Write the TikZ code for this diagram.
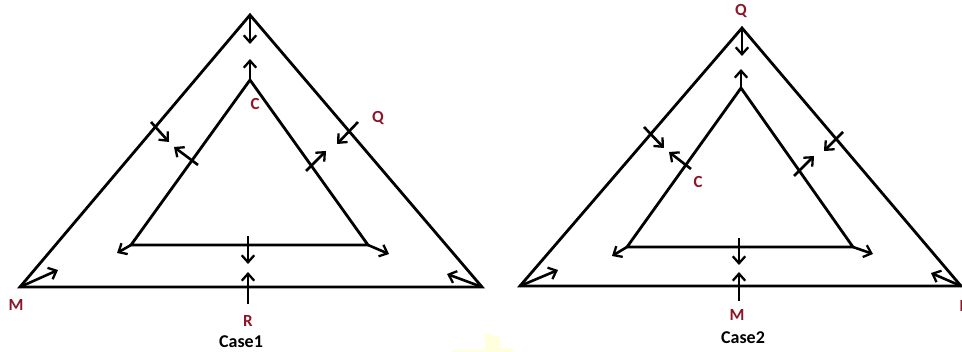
\documentclass[tikz,border=0pt]{standalone}
\usepackage{fontspec}
\setmainfont{Carlito}
\usetikzlibrary{arrows.meta}
\definecolor{lbl}{RGB}{140,22,40}
\definecolor{wm}{RGB}{255,255,222}
\tikzset{
  edge/.style={line width=2.8pt, line join=miter},
  arr/.style={line width=2.6pt, -{Straight Barb[length=7pt,width=12.5pt,line width=2.3pt]}},
  lab/.style={text=lbl, font=\bfseries\fontsize{17}{17}\selectfont, inner sep=0pt},
  captext/.style={text=black, font=\bfseries\fontsize{18}{18}\selectfont, inner sep=0pt}
}
\begin{document}
\begin{tikzpicture}[x=1pt,y=-1pt]
\useasboundingbox (0,0) rectangle (962,352);
% faint watermark
\fill[wm] (485,333) -- (500,337) -- (500,348) -- (513,348) -- (513,352) -- (453,352) -- (453,350) -- (485,350) -- cycle;

% ---------------- Case 1 ----------------
\coordinate (A1) at (250,15);
\coordinate (M1) at (20,287);
\coordinate (B1) at (482,287);
\coordinate (a1) at (250,80);
\coordinate (l1) at (131,245);
\coordinate (r1) at (368,245);
\draw[edge] (A1) -- (M1) -- (B1) -- cycle;
\draw[edge] (a1) -- (l1) -- (r1) -- cycle;

\coordinate (p1s) at (250,15);  \coordinate (p1t) at (250,44);
\coordinate (p2t) at (250,59);
\coordinate (p3s) at (151,122); \coordinate (p3t) at (169,142);
\coordinate (p4s) at (198,165); \coordinate (p4t) at (174,147);
\coordinate (p5s) at (358,122); \coordinate (p5t) at (337,144);
\coordinate (p6s) at (306,171); \coordinate (p6t) at (326,151);
\coordinate (p7s) at (248,236); \coordinate (p7t) at (248,264);
\coordinate (p8s) at (248,304); \coordinate (p8t) at (248,272);
\coordinate (p9t) at (117,253);
\coordinate (p10t) at (389,254);
\coordinate (p11t) at (58,270);
\coordinate (p12t) at (447,274);
\draw[arr] (p1s) -- (p1t);
\draw[arr] (a1) -- (p2t);
\draw[arr] (p3s) -- (p3t);
\draw[arr] (p4s) -- (p4t);
\draw[arr] (p5s) -- (p5t);
\draw[arr] (p6s) -- (p6t);
\draw[arr] (p7s) -- (p7t);
\draw[arr] (p8s) -- (p8t);
\draw[arr] (l1) -- (p9t);
\draw[arr] (r1) -- (p10t);
\draw[arr] (M1) -- (p11t);
\draw[arr] (B1) -- (p12t);

\node[lab] (c1) at (255,104) {C};
\node[lab] (q1) at (378,118) {Q};
\node[lab] (m1) at (16,305) {M};
\node[lab] (rr1) at (248,321) {R};
\node[captext] (case1) at (241,342) {Case1};

% ---------------- Case 2 ----------------
\coordinate (A2) at (742,28);
\coordinate (L2) at (520,286);
\coordinate (R2) at (961,286);
\coordinate (a2) at (741,88);
\coordinate (l2) at (627,247);
\coordinate (r2) at (853,247);
\draw[edge] (A2) -- (L2) -- (R2) -- cycle;
\draw[edge] (a2) -- (l2) -- (r2) -- cycle;

\coordinate (q1t) at (742,56);
\coordinate (q2t) at (741,69);
\coordinate (q3s) at (644,127); \coordinate (q3t) at (664,148);
\coordinate (q4s) at (691,169); \coordinate (q4t) at (669,152);
\coordinate (q5s) at (843,132); \coordinate (q5t) at (824,151);
\coordinate (q6s) at (794,176); \coordinate (q6t) at (814,156);
\coordinate (q7s) at (739,238); \coordinate (q7t) at (739,265);
\coordinate (q8s) at (739,301); \coordinate (q8t) at (739,272);
\coordinate (q9t) at (612,256);
\coordinate (q10t) at (873,254);
\coordinate (q11t) at (558,270);
\coordinate (q12t) at (931,273);
\draw[arr] (A2) -- (q1t);
\draw[arr] (a2) -- (q2t);
\draw[arr] (q3s) -- (q3t);
\draw[arr] (q4s) -- (q4t);
\draw[arr] (q5s) -- (q5t);
\draw[arr] (q6s) -- (q6t);
\draw[arr] (q7s) -- (q7t);
\draw[arr] (q8s) -- (q8t);
\draw[arr] (l2) -- (q9t);
\draw[arr] (r2) -- (q10t);
\draw[arr] (L2) -- (q11t);
\draw[arr] (R2) -- (q12t);

\node[lab] (qq2) at (741,11) {Q};
\node[lab] (c2) at (698,182) {C};
\node[lab] (m2) at (737,315) {M};
\node[lab,anchor=west] (rr2) at (959.5,306) {R};
\node[captext] (case2) at (743,338) {Case2};
\end{tikzpicture}
\end{document}
